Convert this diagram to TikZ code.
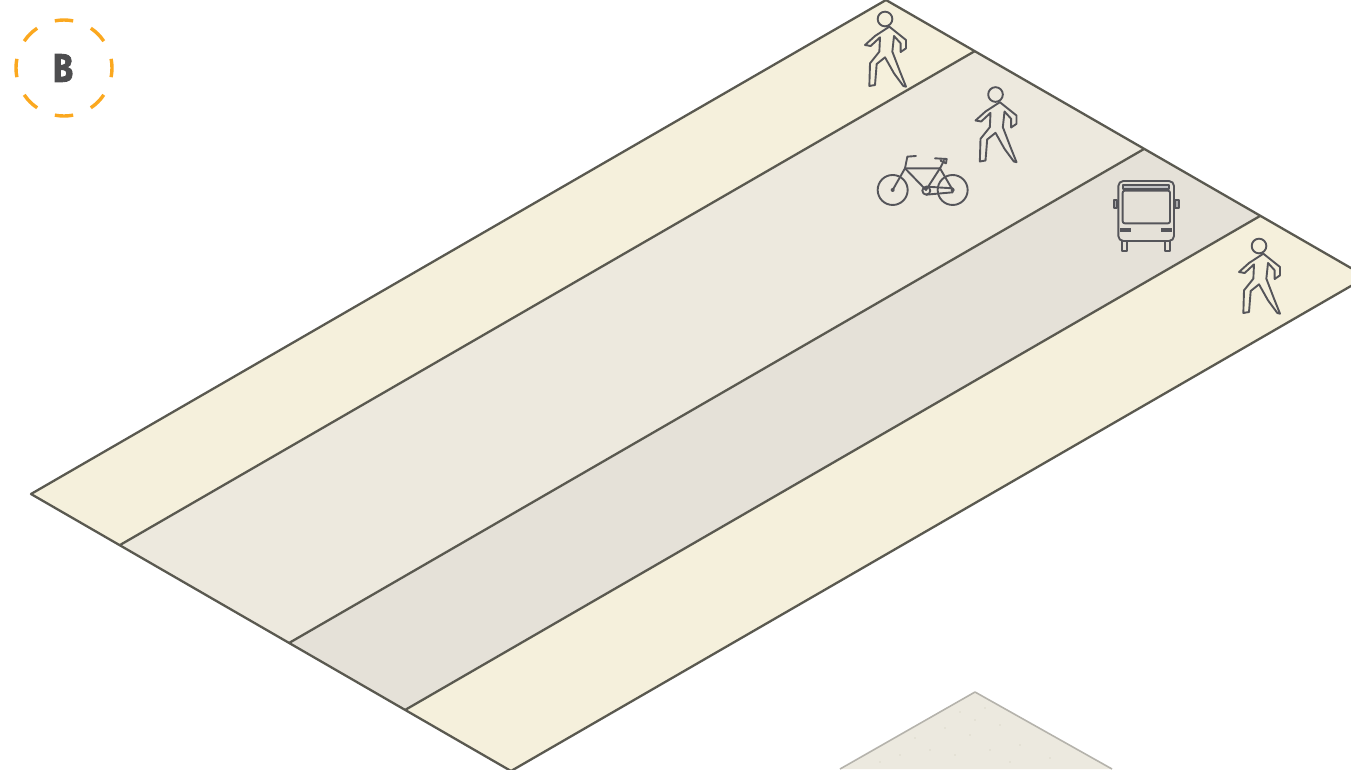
\documentclass[tikz,border=0pt]{standalone}
\usepackage{graphicx}
\usepackage{fontspec}
\usetikzlibrary{calc}
\setmainfont[BoldFeatures={FakeBold=2.2}]{Fira Sans}
\definecolor{strip}{HTML}{F5F0DC}
\definecolor{midl}{HTML}{EDE9DE}
\definecolor{darkl}{HTML}{E5E1D8}
\definecolor{edgec}{HTML}{5A5950}
\definecolor{iconc}{HTML}{55555A}
\definecolor{textc}{HTML}{4D4D4F}
\definecolor{ringc}{HTML}{FBA81F}
\definecolor{lotc}{HTML}{ECE9DF}
\definecolor{lotedge}{HTML}{B5B3AC}
\definecolor{dotc}{HTML}{DDD9CB}
\tikzset{
  road/.style={draw=edgec,line width=2.3pt,line join=round},
  ico/.style={draw=iconc,line width=1.9pt,line join=round,line cap=round},
  ringdash/.style={draw=ringc,line width=3.4pt},
}
% walker: origin = head centre, coordinates in 3x zoom pixels
\newcommand{\walker}[2]{%
\begin{scope}[shift={(#1,#2)},x=0.3333pt,y=-0.3333pt]
\draw[ico] (0,0) circle (22);
\draw[ico] (13,23) -- (63,63) -- (63,88) -- (47,99) -- (47,73) -- (27,51) -- (22,98) -- (45,158) -- (63,203) -- (55,201) -- (27,163) -- (0,115) -- (-25,135) -- (-30,198) -- (-47,201) -- (-45,133) -- (-17,98) -- (-15,55) -- (-43,81) -- (-60,78) -- (-30,51) -- cycle;
\end{scope}}
\begin{document}
\begin{tikzpicture}[x=1pt,y=-1pt]
\useasboundingbox (0,0) rectangle (1351,769);
\begin{scope}
\clip (0,0) rectangle (1351,769);
% road strips
\coordinate (top) at (886,0);
\coordinate (left) at (31,494);
\coordinate (bot) at (511,771);
\coordinate (rgt) at (1366.5,277);
\coordinate (a1) at (975,51);
\coordinate (a2) at (120,545);
\coordinate (b1) at (1144,149);
\coordinate (b2) at (289,643);
\coordinate (c1) at (1260,216);
\coordinate (c2) at (405,710);
\fill[strip] (top) -- (a1) -- (a2) -- (left) -- cycle;
\fill[midl] (a1) -- (b1) -- (b2) -- (a2) -- cycle;
\fill[darkl] (b1) -- (c1) -- (c2) -- (b2) -- cycle;
\fill[strip] (c1) -- (rgt) -- (bot) -- (c2) -- cycle;
\draw[road] (a1) -- (a2);
\draw[road] (b1) -- (b2);
\draw[road] (c1) -- (c2);
\draw[road] (rgt) -- (top) -- (left) -- (bot) -- cycle;
% lot at the bottom
\fill[lotc] (975,692) -- (1112,769) -- (840,769) -- cycle;
\draw[draw=lotedge,line width=1.6pt,line join=round] (840,769) -- (975,692) -- (1112,769);
\foreach \p in {(960,712),(985,708),(945,728),(970,735),(1000,725),(1020,745),(930,750),(900,755),(955,755),(990,750),(1050,758),(880,762),(1010,762),(975,720),(915,738)}
  \fill[dotc] \p circle (0.8);
\end{scope}
% walkers
\walker{885}{19}
\walker{995.5}{94.5}
\walker{1259}{246}
% bicycle
\begin{scope}[shift={(850,0)},x=0.3333pt,y=-0.3333pt]
\draw[ico] (128,570) circle (45);
\draw[ico] (308,570) circle (45);
\fill[iconc] (128,570) circle (6);
\fill[iconc] (308,570) circle (6);
\draw[ico] (128,570) -- (165,505) -- (270,505) -- (308,570);
\draw[ico] (165,505) -- (228,570) -- (270,505);
\draw[ico] (165,505) -- (172,470) -- (198,468);
\draw[ico] (270,505) -- (282,482);
\draw[ico] (255,475) -- (290,477) -- (288,490) -- (272,482);
\draw[ico] (229,572) circle (12);
\draw[ico] (229,560) -- (308,565) -- (308,577) -- (229,584);
\end{scope}
% bus
\begin{scope}[shift={(1100,170)},x=0.3333pt,y=-0.3333pt]
\draw[ico,rounded corners=5pt] (55,33) rectangle (222,213);
\draw[ico,rounded corners=2pt] (68,62) rectangle (210,160);
\draw[ico,fill=iconc!35] (68,45) rectangle (208,57);
\fill[iconc] (60,174) rectangle (92,186);
\fill[iconc] (184,174) rectangle (216,186);
\draw[ico,fill=iconc!50] (41,90) rectangle (52,115);
\draw[ico,fill=iconc!50] (226,90) rectangle (237,115);
\draw[ico] (65,213) rectangle (80,243);
\draw[ico] (194,213) rectangle (209,243);
\end{scope}
% badge
\coordinate (ringc0) at (64,68);
\foreach \a in {0,45,...,315}
  \draw[ringdash] ($(ringc0)+(\a-11:48)$) arc[start angle=\a-11,delta angle=22,radius=48];
\node[inner sep=0pt,text=textc] (badge) at (63,68) {\scalebox{0.82}[1]{\fontsize{40}{40}\selectfont\bfseries B}};
\end{tikzpicture}
\end{document}
